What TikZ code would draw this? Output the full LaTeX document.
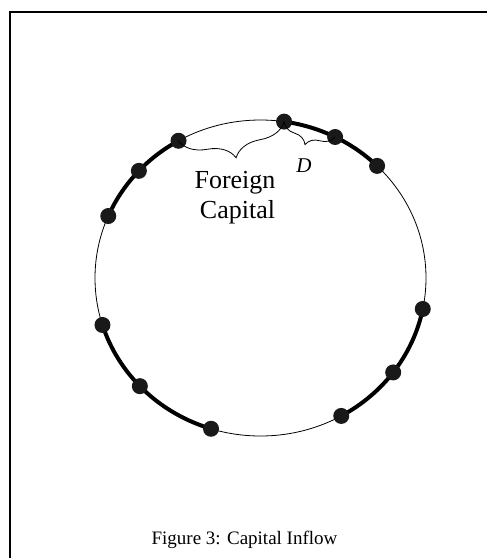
\documentclass[tikz,border=0pt]{standalone}
\usepackage{fontspec}
\setmainfont{Liberation Serif}
\usetikzlibrary{decorations.pathreplacing}
\tikzset{
  dot/.style={circle, fill=black!90, draw=none, inner sep=0pt, minimum size=16pt},
  thinring/.style={line width=0.8pt},
  thickarc/.style={line width=4pt},
  bracedeco/.style={decorate, line width=0.8pt},
  framestyle/.style={line width=2pt},
  bigtext/.style={font=\fontsize{26}{30}\selectfont, inner sep=0pt},
  captext/.style={font=\fontsize{19}{22}\selectfont, inner sep=0pt},
  dtext/.style={font=\fontsize{21}{24}\selectfont\itshape, inner sep=0pt}
}
\newcommand{\cx}{260.5}
\newcommand{\cy}{278}
\newcommand{\ra}{165.5}
\newcommand{\rb}{158}
\begin{document}
\begin{tikzpicture}[x=1pt,y=-1pt]
\useasboundingbox (0,0) rectangle (487,558);
% frame (top and left edges visible)
\coordinate (ftr) at (487,12);
\coordinate (ftl) at (10.3,12);
\coordinate (fbl) at (10.3,558);
\draw[framestyle] (ftr) -- (ftl) -- (fbl);
% ring
\draw[thinring] (\cx,\cy) ellipse [x radius=\ra pt, y radius=\rb pt];
% thick arcs
\draw[thickarc] plot[domain=119.7:156.9, samples=40, variable=\t] ({\cx+\ra*cos(\t)},{\cy-\rb*sin(\t)});
\draw[thickarc] plot[domain=45.2:81.8, samples=40, variable=\t] ({\cx+\ra*cos(\t)},{\cy-\rb*sin(\t)});
\draw[thickarc] plot[domain=197.3:252.6, samples=40, variable=\t] ({\cx+\ra*cos(\t)},{\cy-\rb*sin(\t)});
\draw[thickarc] plot[domain=-60.8:-11.3, samples=40, variable=\t] ({\cx+\ra*cos(\t)},{\cy-\rb*sin(\t)});
% dots
\foreach \n/\a in {d1/156.9, d2/137.3, d3/119.7, d4/81.8, d5/63.2, d6/45.2,
                   d7/-11.3, d8/-36.7, d9/-60.8, d10/252.6, d11/223.2, d12/197.3}{
  \node[dot] (\n) at ({\cx+\ra*cos(\a)},{\cy-\rb*sin(\a)}) {};
}
% braces
\draw[bracedeco, decoration={brace, mirror, amplitude=27pt}] (d3.center) -- (d4.center);
\draw[bracedeco, decoration={brace, mirror, amplitude=16pt}] (d4.center) -- (d5.center);
% labels
\node[bigtext, anchor=base] (fc1) at (235,188) {Foreign};
\node[bigtext, anchor=base] (fc2) at (237.5,218) {Capital};
\node[dtext, anchor=base] (dl) at (304,172) {D};
\node[captext, anchor=base] (cap) at (244.5,544) {Figure 3: Capital Inflow};
\end{tikzpicture}
\end{document}
